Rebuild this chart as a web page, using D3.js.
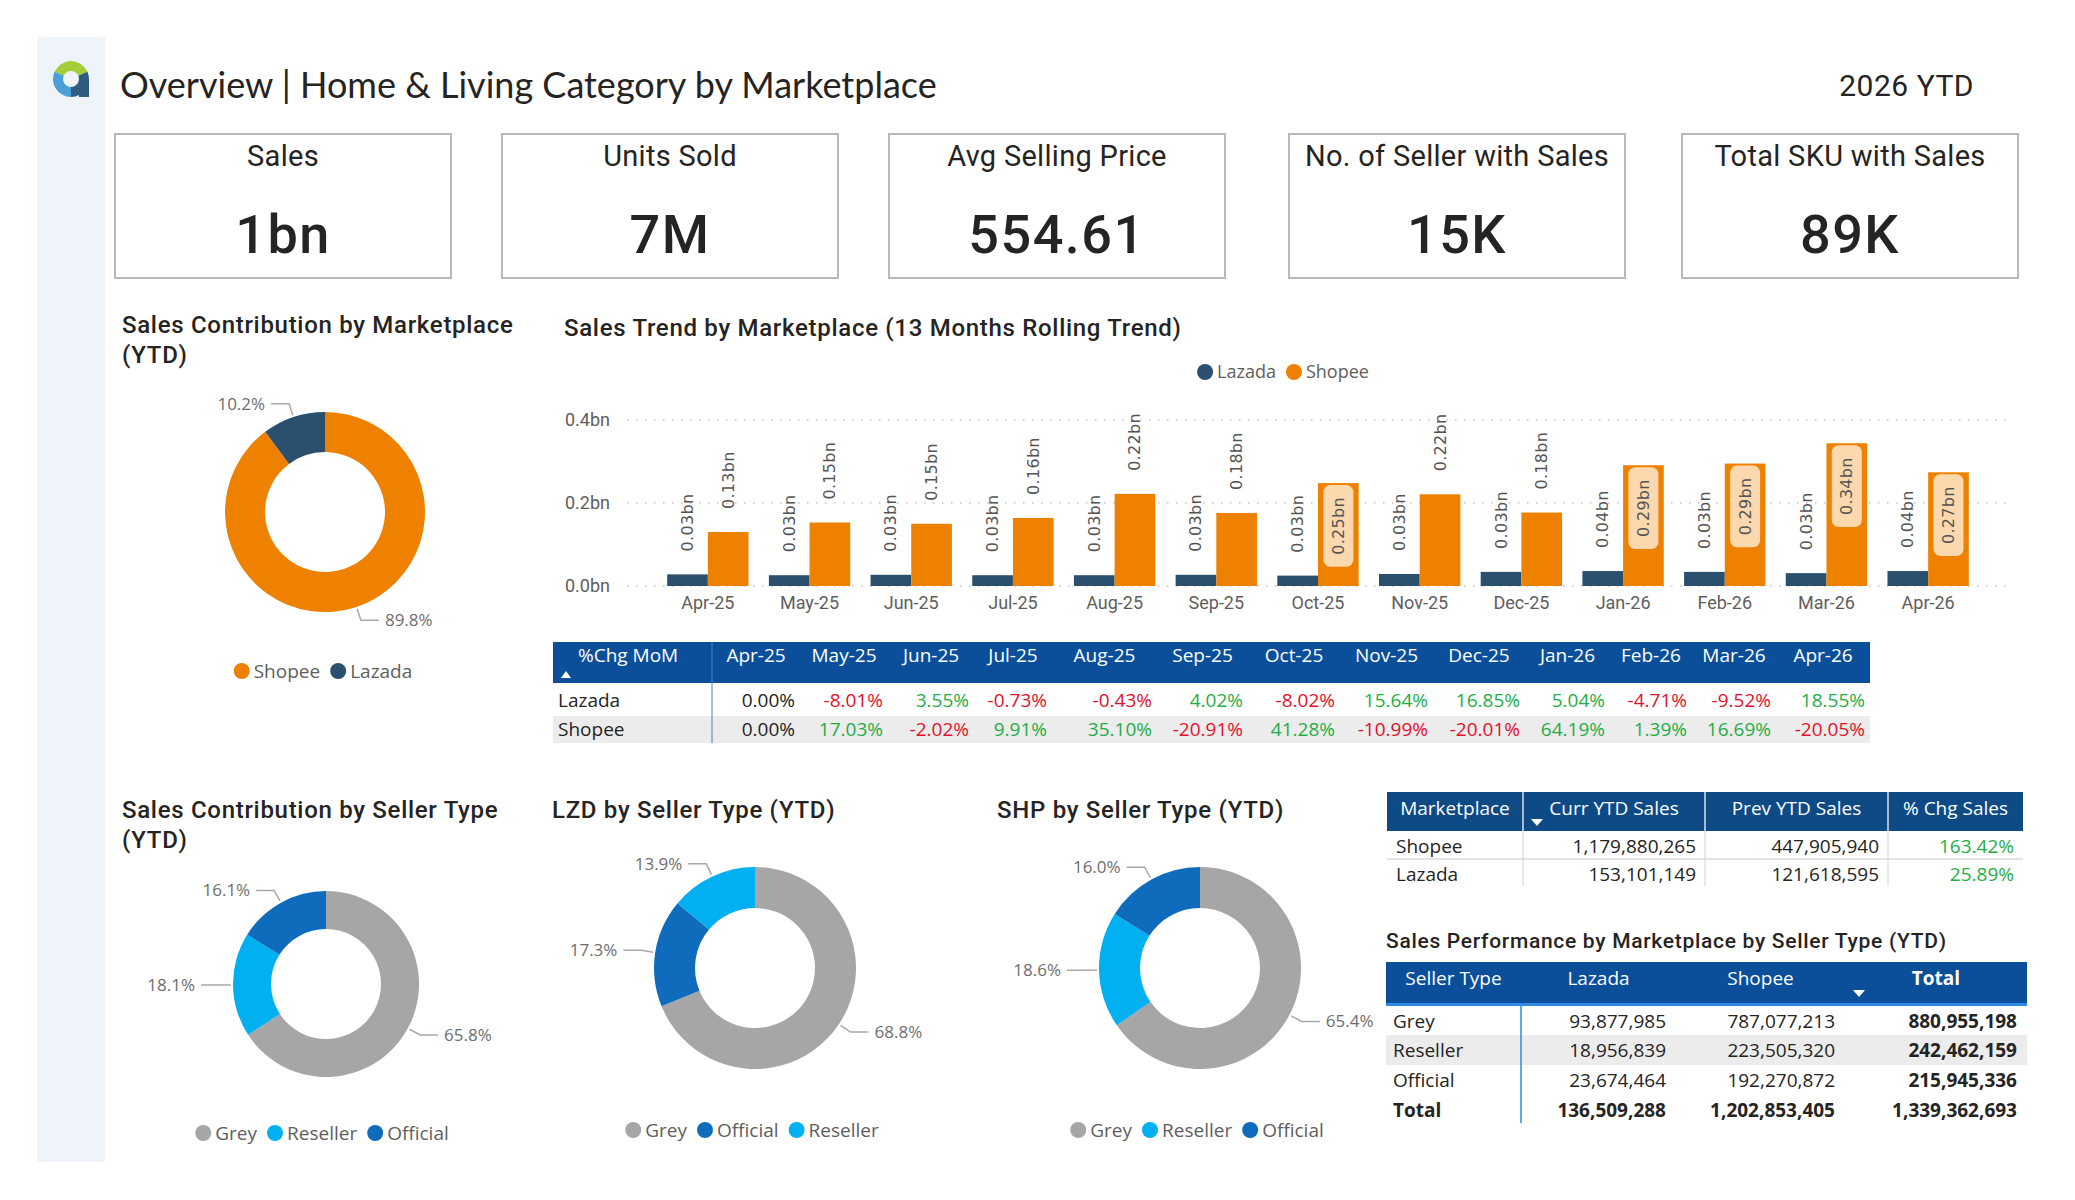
<!DOCTYPE html>
<html lang="en">
<head>
    <meta charset="UTF-8">
    <title>Overview | Home & Living Category by Marketplace</title>
    <script src="https://d3js.org/d3.v7.min.js"></script>
    <style>
        body { margin: 0; background: #fff; }
        svg { display: block; }
    </style>
</head>
<body>
<svg></svg>
<script>
    // ---------------- data ----------------
    const kpiLabels = ["Sales", "Units Sold", "Avg Selling Price", "No. of Seller with Sales", "Total SKU with Sales"];
    const kpiValues = ["1bn", "7M", "554.61", "15K", "89K"];

    const months = ["Apr-25", "May-25", "Jun-25", "Jul-25", "Aug-25", "Sep-25", "Oct-25",
        "Nov-25", "Dec-25", "Jan-26", "Feb-26", "Mar-26", "Apr-26"];
    // sales in bn
    const lazadaSales = [0.028, 0.026, 0.027, 0.026, 0.026, 0.027, 0.025, 0.029, 0.034, 0.036, 0.034, 0.031, 0.036];
    const shopeeSales = [0.130, 0.153, 0.150, 0.164, 0.222, 0.176, 0.248, 0.221, 0.177, 0.291, 0.295, 0.344, 0.274];

    const lazadaMoM = [0.00, -8.01, 3.55, -0.73, -0.43, 4.02, -8.02, 15.64, 16.85, 5.04, -4.71, -9.52, 18.55];
    const shopeeMoM = [0.00, 17.03, -2.02, 9.91, 35.10, -20.91, 41.28, -10.99, -20.01, 64.19, 1.39, 16.69, -20.05];

    const marketNames = ["Shopee", "Lazada"];
    const marketShare = [89.8, 10.2];

    const sellerAllNames = ["Grey", "Reseller", "Official"];
    const sellerAllShare = [65.8, 18.1, 16.1];
    const sellerLzdNames = ["Grey", "Official", "Reseller"];
    const sellerLzdShare = [68.8, 17.3, 13.9];
    const sellerShpNames = ["Grey", "Reseller", "Official"];
    const sellerShpShare = [65.4, 18.6, 16.0];

    const ytdMarkets = ["Shopee", "Lazada"];
    const currYtdSales = [1179880265, 153101149];
    const prevYtdSales = [447905940, 121618595];
    const chgSales = [163.42, 25.89];

    const sellerTypes = ["Grey", "Reseller", "Official"];
    const lazadaBySeller = [93877985, 18956839, 23674464];
    const shopeeBySeller = [787077213, 223505320, 192270872];

    // ---------------- setup ----------------
    const width = 2075, height = 1200;
    const svg = d3.select("svg").attr("width", width).attr("height", height);

    const FONT = "'Segoe UI', 'Open Sans', sans-serif";
    const FONT_DIN = "'DIN', Roboto, sans-serif";
    const TXT = "#252423", GREY_TXT = "#605e5c";
    const HEADER_BLUE = "#0b4f9b";

    const marketColor = d3.scaleOrdinal().domain(["Lazada", "Shopee"]).range(["#2b4f6e", "#ef8100"]);
    const sellerColor = d3.scaleOrdinal().domain(["Grey", "Reseller", "Official"]).range(["#a6a6a6", "#00b0f0", "#0f6cbd"]);

    // side bar + logo
    svg.append("rect").attr("x", 37).attr("y", 37).attr("width", 68).attr("height", 1125).attr("fill", "#eef4f9");
    const logo = svg.append("g").attr("transform", "translate(71,79)");
    const logoArc = d3.arc().innerRadius(8).outerRadius(18);
    logo.append("path").attr("d", logoArc({startAngle: -1.15, endAngle: 1.15})).attr("fill", "#a4cd39");
    logo.append("path").attr("d", logoArc({startAngle: Math.PI, endAngle: 2 * Math.PI - 1.15})).attr("fill", "#4a9fd6");
    logo.append("path").attr("d", logoArc({startAngle: 1.15, endAngle: Math.PI})).attr("fill", "#2f5d80");
    logo.append("rect").attr("x", 8).attr("y", 0).attr("width", 10).attr("height", 18).attr("fill", "#2f5d80");

    // title
    svg.append("text").attr("x", 120).attr("y", 98)
        .style("font-family", "Lato, 'Open Sans', sans-serif").style("font-size", "36px").style("font-weight", 400).attr("fill", TXT)
        .text("Overview | Home & Living Category by Marketplace");
    svg.append("text").attr("x", 1974).attr("y", 96).attr("text-anchor", "end")
        .style("font-family", FONT_DIN).style("font-size", "30px").style("letter-spacing", "0.5px").attr("fill", TXT)
        .text("2026 YTD");

    // ---------------- KPI cards ----------------
    const cardX = [115, 502, 889, 1289, 1682];
    const cards = svg.selectAll("g.card").data(kpiLabels).join("g")
        .attr("class", "card")
        .attr("transform", (d, i) => `translate(${cardX[i]},134)`);
    cards.append("rect").attr("width", 336).attr("height", 144)
        .attr("fill", "#fff").attr("stroke", "#b8b8b8").attr("stroke-width", 2);
    cards.append("text").attr("x", 168).attr("y", 32).attr("text-anchor", "middle")
        .style("font-family", FONT_DIN).style("font-size", "29px").style("letter-spacing", "0.3px").attr("fill", TXT)
        .text(d => d);
    cards.append("text").attr("x", 168).attr("y", 119).attr("text-anchor", "middle")
        .style("font-family", FONT_DIN).style("font-size", "54px").style("font-weight", 500)
        .style("letter-spacing", "1.5px").attr("fill", TXT)
        .text((d, i) => kpiValues[i]);

    // ---------------- helpers ----------------
    function chartTitle(x, y, lines, size) {
        const t = svg.append("text").attr("x", x).attr("y", y)
            .style("font-family", FONT_DIN).style("font-size", (size || 24) + "px").style("font-weight", 500)
            .style("letter-spacing", "0.7px")
            .attr("fill", TXT);
        lines.forEach((l, i) => t.append("tspan").attr("x", x).attr("dy", i ? 30 : 0).text(l));
    }

    function legend(cx, cy, names, color, size) {
        const g = svg.append("g");
        let pos = 0;
        names.forEach(n => {
            const item = g.append("g").attr("transform", `translate(${pos},0)`);
            item.append("circle").attr("cx", 8).attr("cy", 0).attr("r", 8).attr("fill", color(n));
            const t = item.append("text").attr("x", 20).attr("y", 0).attr("dy", "0.35em")
                .style("font-family", FONT).style("font-size", (size || 19) + "px").attr("fill", GREY_TXT).text(n);
            pos += 20 + t.node().getComputedTextLength() + 10;
        });
        g.attr("transform", `translate(${cx - (pos - 10) / 2},${cy})`);
    }

    function donut(cx, cy, ro, ri, names, values, color) {
        const g = svg.append("g").attr("transform", `translate(${cx},${cy})`);
        const pie = d3.pie().sort(null).value(d => d.value);
        const arcs = pie(names.map((n, i) => ({name: n, value: values[i]})));
        const arc = d3.arc().innerRadius(ri).outerRadius(ro);
        g.selectAll("path").data(arcs).join("path").attr("d", arc).attr("fill", d => color(d.data.name));
        arcs.forEach(a => {
            const mid = (a.startAngle + a.endAngle) / 2;
            const dir = Math.sin(mid) >= 0 ? 1 : -1;
            const p0 = [Math.sin(mid) * (ro + 2), -Math.cos(mid) * (ro + 2)];
            const p1 = [Math.sin(mid) * (ro + 14), -Math.cos(mid) * (ro + 14)];
            const p2 = [p1[0] + dir * 18, p1[1]];
            g.append("polyline").attr("points", [p0, p1, p2].map(p => p.join(",")).join(" "))
                .attr("fill", "none").attr("stroke", "#a8a8a8").attr("stroke-width", 1.5);
            g.append("text").attr("x", p2[0] + dir * 6).attr("y", p2[1]).attr("dy", "0.35em")
                .attr("text-anchor", dir > 0 ? "start" : "end")
                .style("font-family", FONT).style("font-size", "17px").attr("fill", "#6e6e6e")
                .text(a.data.value.toFixed(1) + "%");
        });
    }

    // ---------------- donut: marketplace ----------------
    chartTitle(122, 333, ["Sales Contribution by Marketplace", "(YTD)"]);
    donut(325, 512, 100, 60, marketNames, marketShare, marketColor);
    legend(323, 671, marketNames, marketColor);

    // ---------------- bar chart ----------------
    chartTitle(564, 336, ["Sales Trend by Marketplace (13 Months Rolling Trend)"]);
    legend(1283, 372, ["Lazada", "Shopee"], marketColor, 18);

    const x = d3.scaleBand().domain(months).range([657, 1979]).paddingInner(0.2).paddingOuter(0.1);
    const y = d3.scaleLinear().domain([0, 0.4]).range([586, 420]);
    const plotTop = 410;

    const grid = svg.append("g");
    grid.selectAll("line").data(y.ticks(2)).join("line")
        .attr("x1", 627).attr("x2", 2011).attr("y1", d => y(d)).attr("y2", d => y(d))
        .attr("stroke", "#c4c4c4").attr("stroke-width", 1.5).attr("stroke-dasharray", "1.5,7.5");

    const yAxis = svg.append("g").attr("transform", "translate(617,0)")
        .call(d3.axisLeft(y).tickValues([0, 0.2, 0.4]).tickSize(0).tickPadding(7).tickFormat(d => d.toFixed(1) + "bn"));
    yAxis.select(".domain").remove();
    yAxis.selectAll("text").style("font-family", FONT_DIN).style("font-size", "18px").attr("fill", GREY_TXT);

    const xAxis = svg.append("g").attr("transform", "translate(0,586)")
        .call(d3.axisBottom(x).tickSize(0).tickPadding(10));
    xAxis.select(".domain").remove();
    xAxis.selectAll("text").style("font-family", FONT_DIN).style("font-size", "18px").attr("fill", GREY_TXT);

    const series = [{name: "Lazada", values: lazadaSales}, {name: "Shopee", values: shopeeSales}];
    const bw = x.bandwidth() / 2;
    series.forEach((s, si) => {
        svg.append("g").selectAll("rect").data(s.values).join("rect")
            .attr("x", (d, i) => x(months[i]) + si * bw)
            .attr("width", bw)
            .attr("y", d => y(d))
            .attr("height", d => y(0) - y(d))
            .attr("fill", marketColor(s.name));
    });

    const labels = svg.append("g");
    series.forEach((s, si) => {
        s.values.forEach((v, i) => {
            const cx = x(months[i]) + si * bw + bw / 2;
            const top = y(v);
            const t = labels.append("text")
                .style("font-family", "'DejaVu Sans', sans-serif").style("font-size", "16px")
                .style("letter-spacing", "0.3px")
                .attr("fill", "#555").attr("dominant-baseline", "central")
                .text(v.toFixed(2) + "bn");
            const len = t.node().getComputedTextLength();
            if (top - 23 - len < plotTop) {
                const boxH = len + 24;
                labels.insert("rect", "text").attr("x", cx - 15).attr("y", top + 2)
                    .attr("width", 30).attr("height", boxH).attr("rx", 7)
                    .attr("fill", "#fcd8ae");
                t.attr("transform", `translate(${cx},${top + 2 + boxH / 2 + len / 2}) rotate(-90)`);
            } else {
                t.attr("transform", `translate(${cx},${top - 23}) rotate(-90)`);
            }
        });
    });

    // ---------------- MoM table ----------------
    const momLeft = 553, momFirst = 712;
    const momRights = [800, 888, 974, 1052, 1157, 1248, 1340, 1433, 1525, 1610, 1692, 1776, 1870];
    const mom = svg.append("g");
    mom.append("rect").attr("x", momLeft).attr("y", 642).attr("width", 1870 - momLeft).attr("height", 41).attr("fill", HEADER_BLUE);
    mom.append("rect").attr("x", momLeft).attr("y", 716).attr("width", 1870 - momLeft).attr("height", 27).attr("fill", "#ececec");
    mom.append("line").attr("x1", momFirst).attr("x2", momFirst).attr("y1", 642).attr("y2", 743)
        .attr("stroke", "#3b86d8").attr("stroke-width", 1);
    mom.append("text").attr("x", 578).attr("y", 662)
        .style("font-family", FONT).style("font-size", "19px").attr("fill", "#fff").text("%Chg MoM");
    mom.append("path").attr("d", "M561,678 L566,671 L571,678 Z").attr("fill", "#fff");
    mom.selectAll("text.mh").data(months).join("text").attr("class", "mh")
        .attr("x", (d, i) => ((i ? momRights[i - 1] : momFirst) + momRights[i]) / 2)
        .attr("y", 662).attr("text-anchor", "middle")
        .style("font-family", FONT).style("font-size", "19px").attr("fill", "#fff").text(d => d);
    const momRows = [{name: "Lazada", values: lazadaMoM}, {name: "Shopee", values: shopeeMoM}];
    const momColor = v => v === 0 ? TXT : (v < 0 ? "#e3112b" : "#1fae45");
    momRows.forEach((r, ri) => {
        const cy = 700 + ri * 29;
        mom.append("text").attr("x", 558).attr("y", cy).attr("dy", "0.35em")
            .style("font-family", FONT).style("font-size", "19px").attr("fill", TXT).text(r.name);
        mom.append("g").selectAll("text").data(r.values).join("text")
            .attr("x", (d, i) => momRights[i] - 5).attr("y", cy).attr("dy", "0.35em").attr("text-anchor", "end")
            .style("font-family", FONT).style("font-size", "19px").attr("fill", d => momColor(d))
            .text(d => d.toFixed(2) + "%");
    });

    // ---------------- donuts: seller type ----------------
    chartTitle(122, 818, ["Sales Contribution by Seller Type", "(YTD)"]);
    donut(326, 984, 93, 55, sellerAllNames, sellerAllShare, sellerColor);
    legend(322, 1133, sellerAllNames, sellerColor);

    chartTitle(552, 818, ["LZD by Seller Type (YTD)"]);
    donut(755, 968, 101, 60, sellerLzdNames, sellerLzdShare, sellerColor);
    legend(752, 1130, sellerLzdNames, sellerColor);

    chartTitle(997, 818, ["SHP by Seller Type (YTD)"]);
    donut(1200, 968, 101, 60, sellerShpNames, sellerShpShare, sellerColor);
    legend(1197, 1130, sellerShpNames, sellerColor);

    // ---------------- YTD marketplace table ----------------
    const fmt = d3.format(",");
    const mt = svg.append("g");
    const mtCols = [1387, 1523, 1705, 1888, 2023];
    const mtHeads = ["Marketplace", "Curr YTD Sales", "Prev YTD Sales", "% Chg Sales"];
    mt.append("rect").attr("x", 1387).attr("y", 792).attr("width", 2023 - 1387).attr("height", 39).attr("fill", "#0e4a86");
    mt.selectAll("line.v").data(mtCols.slice(1, 4)).join("line").attr("class", "v")
        .attr("x1", d => d).attr("x2", d => d).attr("y1", 792).attr("y2", 886)
        .attr("stroke", "#e1e1e1").attr("stroke-width", 1.5);
    mt.append("line").attr("x1", 1387).attr("x2", 2023).attr("y1", 859).attr("y2", 859).attr("stroke", "#dadada").attr("stroke-width", 1.5);
    mt.selectAll("text.h").data(mtHeads).join("text").attr("class", "h")
        .attr("x", (d, i) => (mtCols[i] + mtCols[i + 1]) / 2).attr("y", 808).attr("dy", "0.35em")
        .attr("text-anchor", "middle")
        .style("font-family", FONT).style("font-size", "19px").attr("fill", "#fff").text(d => d);
    mt.append("path").attr("d", "M1531,819 L1543,819 L1537,826 Z").attr("fill", "#fff");
    ytdMarkets.forEach((m, i) => {
        const cy = 846 + i * 28;
        const row = [fmt(currYtdSales[i]), fmt(prevYtdSales[i]), chgSales[i].toFixed(2) + "%"];
        mt.append("text").attr("x", 1396).attr("y", cy).attr("dy", "0.35em")
            .style("font-family", FONT).style("font-size", "19px").attr("fill", TXT).text(m);
        row.forEach((v, j) => {
            mt.append("text").attr("x", mtCols[j + 2] - 9).attr("y", cy).attr("dy", "0.35em").attr("text-anchor", "end")
                .style("font-family", FONT).style("font-size", "19px").attr("fill", j === 2 ? "#1fae45" : TXT).text(v);
        });
    });

    // ---------------- seller type table ----------------
    chartTitle(1386, 948, ["Sales Performance by Marketplace by Seller Type (YTD)"], 21);
    const st = svg.append("g");
    const stCols = [1386, 1521, 1676, 1845, 2027];
    const stHeads = ["Seller Type", "Lazada", "Shopee", "Total"];
    st.append("rect").attr("x", 1386).attr("y", 962).attr("width", 2027 - 1386).attr("height", 41).attr("fill", HEADER_BLUE);
    st.append("rect").attr("x", 1386).attr("y", 1003).attr("width", 2027 - 1386).attr("height", 3).attr("fill", "#2e8ae6");
    st.append("rect").attr("x", 1386).attr("y", 1035).attr("width", 2027 - 1386).attr("height", 30).attr("fill", "#ececec");
    st.append("line").attr("x1", 1521).attr("x2", 1521).attr("y1", 1006).attr("y2", 1123).attr("stroke", "#2e8ae6").attr("stroke-width", 1.5);
    st.selectAll("text.h").data(stHeads).join("text").attr("class", "h")
        .attr("x", (d, i) => (stCols[i] + stCols[i + 1]) / 2).attr("y", 978).attr("dy", "0.35em")
        .attr("text-anchor", "middle")
        .style("font-family", FONT).style("font-size", "19px").style("font-weight", (d, i) => i === 3 ? 700 : 400)
        .attr("fill", "#fff").text(d => d);
    st.append("path").attr("d", "M1853,990 L1865,990 L1859,997 Z").attr("fill", "#fff");

    const stRows = sellerTypes.map((s, i) => ({
        name: s, vals: [lazadaBySeller[i], shopeeBySeller[i], lazadaBySeller[i] + shopeeBySeller[i]], bold: false
    }));
    stRows.push({
        name: "Total",
        vals: [d3.sum(lazadaBySeller), d3.sum(shopeeBySeller), d3.sum(lazadaBySeller) + d3.sum(shopeeBySeller)],
        bold: true
    });
    stRows.forEach((r, i) => {
        const cy = 1021 + i * 29.7;
        st.append("text").attr("x", 1393).attr("y", cy).attr("dy", "0.35em")
            .style("font-family", FONT).style("font-size", "19px").style("font-weight", r.bold ? 700 : 400)
            .attr("fill", TXT).text(r.name);
        r.vals.forEach((v, j) => {
            st.append("text").attr("x", stCols[j + 2] - 10).attr("y", cy).attr("dy", "0.35em").attr("text-anchor", "end")
                .style("font-family", FONT).style("font-size", "19px").style("font-weight", (r.bold || j === 2) ? 700 : 400)
                .attr("fill", TXT).text(fmt(v));
        });
    });
</script>
</body>
</html>
